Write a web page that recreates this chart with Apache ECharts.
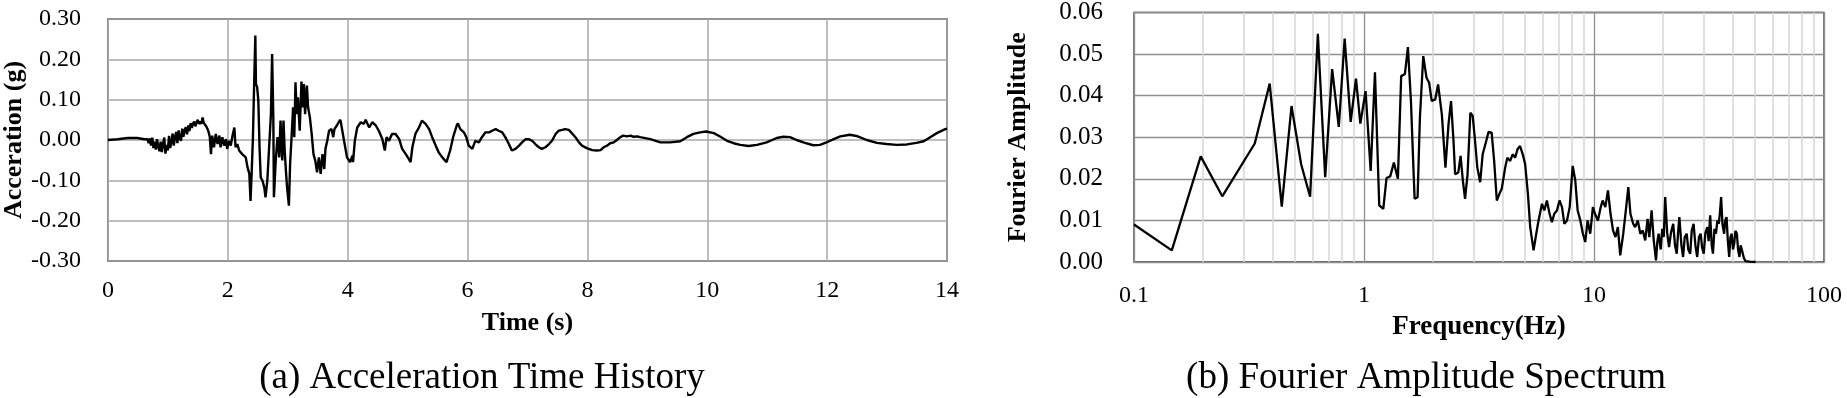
<!DOCTYPE html>
<html>
<head>
<meta charset="utf-8">
<script src="https://cdn.jsdelivr.net/npm/echarts@6/dist/echarts.min.js"></script>
<style>
html,body{margin:0;padding:0;background:#fff;}
#c{width:1847px;height:398px;}
</style>
</head>
<body>
<div id="c"></div>
<script>
// ---- (a) Acceleration time history ----
const timeVals = [0.00,0.16,0.33,0.49,0.61,0.66,0.68,0.70,0.72,0.74,0.76,0.78,0.80,0.82,0.84,0.86,0.88,0.90,0.92,0.94,0.96,0.98,1.00,1.02,1.04,1.06,1.08,1.10,1.12,1.14,1.16,1.18,1.20,1.22,1.24,1.26,1.28,1.30,1.32,1.34,1.36,1.38,1.40,1.42,1.44,1.46,1.48,1.50,1.52,1.54,1.56,1.58,1.60,1.62,1.64,1.66,1.68,1.70,1.72,1.74,1.77,1.80,1.83,1.86,1.88,1.91,1.94,1.97,1.99,2.02,2.05,2.08,2.11,2.13,2.16,2.19,2.22,2.24,2.27,2.30,2.33,2.36,2.38,2.40,2.42,2.44,2.46,2.47,2.49,2.51,2.53,2.55,2.58,2.61,2.63,2.66,2.69,2.72,2.74,2.76,2.77,2.80,2.83,2.86,2.88,2.91,2.93,2.95,2.97,2.99,3.02,3.04,3.07,3.09,3.11,3.13,3.15,3.17,3.20,3.23,3.25,3.27,3.29,3.32,3.34,3.37,3.40,3.43,3.46,3.49,3.52,3.55,3.58,3.61,3.63,3.66,3.69,3.73,3.76,3.78,3.82,3.85,3.88,3.94,3.99,4.04,4.08,4.09,4.12,4.16,4.22,4.27,4.30,4.36,4.41,4.47,4.52,4.58,4.62,4.65,4.69,4.74,4.80,4.86,4.91,4.97,5.02,5.05,5.08,5.13,5.19,5.24,5.30,5.36,5.41,5.47,5.52,5.58,5.65,5.71,5.76,5.82,5.84,5.88,5.94,5.98,6.02,6.08,6.13,6.19,6.24,6.30,6.36,6.41,6.47,6.52,6.58,6.63,6.69,6.74,6.80,6.86,6.91,6.97,7.02,7.08,7.13,7.19,7.24,7.30,7.36,7.41,7.47,7.52,7.58,7.63,7.69,7.74,7.80,7.86,7.91,7.99,8.08,8.16,8.22,8.27,8.33,8.38,8.44,8.49,8.55,8.60,8.66,8.72,8.77,8.83,8.88,9.05,9.22,9.38,9.55,9.66,9.77,9.88,9.98,10.11,10.22,10.33,10.44,10.55,10.69,10.83,10.99,11.16,11.27,11.38,11.49,11.63,11.77,11.88,11.99,12.11,12.22,12.38,12.49,12.66,12.83,12.99,13.16,13.33,13.49,13.61,13.72,13.83,13.97,14.00];
const accelVals = [0.000,0.002,0.005,0.005,0.002,0.002,-0.008,0.004,-0.014,0.006,-0.020,-0.004,-0.024,0.002,-0.016,-0.028,-0.004,-0.030,-0.010,0.006,-0.034,-0.012,-0.026,0.010,-0.020,-0.004,0.016,-0.014,0.008,0.020,-0.008,0.024,0.004,-0.002,0.028,0.008,0.024,0.032,0.014,0.036,0.022,0.042,0.030,0.040,0.046,0.034,0.044,0.050,0.040,0.046,0.040,0.056,0.042,0.046,0.034,0.028,0.020,0.008,-0.035,0.011,-0.018,0.015,-0.010,0.011,-0.018,0.007,-0.014,0.002,-0.022,-0.002,-0.014,0.011,0.031,-0.018,-0.010,-0.026,-0.022,-0.035,-0.031,-0.043,-0.068,-0.084,-0.151,-0.076,0.007,0.139,0.259,0.139,0.131,0.098,-0.018,-0.093,-0.101,-0.118,-0.142,-0.101,-0.018,0.064,0.213,0.056,-0.142,-0.051,0.007,-0.043,0.048,-0.051,0.048,-0.026,-0.076,-0.118,-0.163,-0.060,0.023,0.081,0.007,0.143,0.064,0.106,0.023,0.145,0.081,0.139,0.064,0.135,0.081,0.056,0.015,-0.035,-0.051,-0.080,-0.043,-0.084,-0.035,-0.072,-0.022,-0.002,0.023,0.027,0.007,0.027,0.036,0.044,0.050,-0.002,-0.043,-0.055,-0.039,-0.055,-0.002,0.031,0.044,0.040,0.050,0.031,0.044,0.036,0.023,0.002,-0.026,0.007,-0.002,0.015,0.015,0.002,-0.022,-0.035,-0.047,-0.055,-0.018,0.015,0.031,0.048,0.040,0.027,0.007,-0.014,-0.031,-0.043,-0.055,-0.026,0.007,0.036,0.041,0.027,0.019,0.007,-0.014,-0.022,-0.002,-0.006,0.007,0.019,0.019,0.023,0.027,0.023,0.019,0.007,-0.010,-0.026,-0.022,-0.014,-0.006,0.002,0.002,-0.002,-0.010,-0.018,-0.022,-0.018,-0.010,-0.002,0.015,0.023,0.025,0.027,0.025,0.017,0.007,-0.006,-0.014,-0.020,-0.025,-0.026,-0.025,-0.018,-0.014,-0.008,-0.006,0.000,0.007,0.011,0.009,0.011,0.008,0.009,0.007,0.002,-0.006,-0.006,-0.003,0.007,0.015,0.019,0.021,0.017,0.008,-0.002,-0.008,-0.012,-0.015,-0.012,-0.006,0.005,0.008,0.007,0.000,-0.007,-0.013,-0.012,-0.006,0.002,0.009,0.013,0.010,0.000,-0.007,-0.010,-0.012,-0.011,-0.007,-0.003,0.007,0.017,0.027,0.028];
const timeTicks = [0, 14, 2];          // min, max, step
const accelTicks = [-0.30, 0.30, 0.10];

// ---- (b) Fourier amplitude spectrum ----
const freqVals = [0.100,0.146,0.195,0.242,0.335,0.389,0.439,0.484,0.533,0.583,0.630,0.678,0.727,0.777,0.824,0.875,0.923,0.964,1.016,1.069,1.116,1.165,1.213,1.253,1.300,1.349,1.404,1.451,1.506,1.552,1.60,1.64,1.66,1.71,1.75,1.81,1.87,1.92,1.97,2.04,2.10,2.18,2.26,2.33,2.39,2.45,2.49,2.57,2.63,2.69,2.75,2.82,2.90,2.97,3.04,3.11,3.20,3.28,3.40,3.48,3.59,3.68,3.78,3.88,3.97,4.11,4.20,4.32,4.43,4.54,4.65,4.77,4.90,5.02,5.16,5.28,5.46,5.61,5.74,5.94,6.08,6.24,6.41,6.56,6.72,6.90,7.08,7.26,7.43,7.63,7.84,8.08,8.29,8.49,8.72,8.95,9.16,9.38,9.63,9.89,10.1,10.4,10.7,10.9,11.2,11.5,11.8,12.1,12.4,12.7,13.0,13.4,13.7,14.1,14.4,14.8,15.1,15.5,15.9,16.3,16.7,17.1,17.4,17.8,18.2,18.6,18.85,19.1,19.5,19.8,20.1,20.4,20.8,21.2,21.6,22.1,22.5,22.9,23.2,23.5,24.0,24.4,24.8,25.3,25.7,26.2,26.6,27.1,27.6,28.1,28.6,29.1,29.5,30.0,30.5,31.1,31.5,32.0,32.5,32.9,33.4,33.9,34.4,34.9,35.3,35.7,36.2,36.8,37.2,37.7,38.2,38.7,39.2,39.7,40.2,40.7,41.2,41.8,42.3,42.9,43.4,44.0,44.8,45.6,47.5,50.5];
const ampVals = [0.0090,0.0028,0.0254,0.0158,0.0285,0.0429,0.0133,0.0375,0.0235,0.0157,0.0549,0.0204,0.0464,0.0325,0.0537,0.0337,0.0441,0.0333,0.0411,0.0219,0.0456,0.0136,0.0128,0.0202,0.0206,0.0239,0.0200,0.0447,0.0452,0.0517,0.0387,0.0227,0.0152,0.0156,0.0347,0.0495,0.0443,0.0431,0.0387,0.0391,0.0427,0.0355,0.0227,0.0331,0.0387,0.0291,0.0211,0.0215,0.0255,0.0196,0.0152,0.0211,0.0359,0.0351,0.0291,0.0227,0.0192,0.0259,0.0291,0.0313,0.0311,0.0243,0.0148,0.0164,0.0176,0.0227,0.0251,0.0243,0.0259,0.0251,0.0271,0.0279,0.0259,0.0235,0.0164,0.0084,0.0028,0.0068,0.0100,0.0140,0.0124,0.0148,0.0116,0.0096,0.0116,0.0124,0.0148,0.0132,0.0092,0.0100,0.0132,0.0231,0.0196,0.0124,0.0100,0.0068,0.0048,0.0100,0.0068,0.0132,0.0116,0.0100,0.0132,0.0148,0.0132,0.0172,0.0116,0.0076,0.0060,0.0084,0.0016,0.0068,0.0116,0.0180,0.0116,0.0092,0.0084,0.0100,0.0068,0.0076,0.0052,0.0104,0.0060,0.0124,0.0050,0.0004,0.0048,0.0068,0.0030,0.0080,0.0060,0.0156,0.0070,0.0036,0.0070,0.0092,0.0040,0.0020,0.0070,0.0108,0.0040,0.0012,0.0060,0.0068,0.0030,0.0020,0.0075,0.0092,0.0040,0.0012,0.0060,0.0068,0.0035,0.0020,0.0070,0.0084,0.0050,0.0112,0.0040,0.0020,0.0080,0.0068,0.0100,0.0092,0.0120,0.0156,0.0090,0.0068,0.0100,0.0108,0.0050,0.0012,0.0060,0.0068,0.0030,0.0044,0.0075,0.0068,0.0030,0.0012,0.0040,0.0028,0.0010,0.0002,0.0001,0.0000];
const freqTicks = [0.1, 1, 10, 100];
const freqMinorGrid = [0.2,0.3,0.4,0.5,0.6,0.7,0.8,0.9,2,3,4,5,6,7,8,9,20,30,40,50,60,70,80,90];
const ampTicks = [0, 0.06, 0.01];

const FONT = '"Liberation Serif","Times New Roman",serif';

const accelData = timeVals.map((t, i) => [t, accelVals[i]]);
const specData = freqVals.map((f, i) => [f, ampVals[i]]);

const chart = echarts.init(document.getElementById('c'), null, {renderer: 'canvas'});

const tickLabel = (size) => ({fontFamily: FONT, fontSize: size, color: '#000'});
const axisName = {fontFamily: FONT, fontWeight: 'bold', fontSize: 26, color: '#000'};

chart.setOption({
  animation: false,
  backgroundColor: '#fff',
  grid: [
    {left: 107, top: 19, width: 840, height: 242, show: true, borderColor: '#222', borderWidth: 1.3, backgroundColor: 'transparent'},
    {left: 1134, top: 11, width: 690, height: 251, show: true, borderColor: '#333', borderWidth: 1.3, backgroundColor: 'transparent'}
  ],
  xAxis: [
    {
      gridIndex: 0, type: 'value', min: timeTicks[0], max: timeTicks[1], interval: timeTicks[2],
      axisLine: {show: false}, axisTick: {show: false},
      splitLine: {show: true, lineStyle: {color: '#a9a9a9', width: 1.5}},
      axisLabel: Object.assign({margin: 18}, tickLabel(24)),
      name: 'Time (s)', nameLocation: 'middle', nameGap: 49, nameTextStyle: axisName
    },
    {
      gridIndex: 1, type: 'log', logBase: 10, min: freqTicks[0], max: freqTicks[freqTicks.length - 1],
      axisLine: {show: false}, axisTick: {show: false},
      splitLine: {show: true, lineStyle: {color: '#8f8f8f', width: 1.3}},
      axisLabel: Object.assign({margin: 22, formatter: v => String(+v.toPrecision(3))}, tickLabel(24)),
      name: 'Frequency(Hz)', nameLocation: 'middle', nameGap: 52, nameTextStyle: Object.assign({}, axisName, {fontSize: 27})
    }
  ],
  yAxis: [
    {
      gridIndex: 0, type: 'value', min: accelTicks[0], max: accelTicks[1], interval: accelTicks[2],
      axisLine: {show: false}, axisTick: {show: false},
      splitLine: {show: true, lineStyle: {color: '#a9a9a9', width: 1.5}},
      axisLabel: Object.assign({margin: 27, formatter: v => v.toFixed(2)}, tickLabel(24)),
      name: 'Acceration (g)', nameLocation: 'middle', nameGap: 80, nameTextStyle: axisName
    },
    {
      gridIndex: 1, type: 'value', min: ampTicks[0], max: ampTicks[1], interval: ampTicks[2],
      axisLine: {show: false}, axisTick: {show: false},
      splitLine: {show: true, lineStyle: {color: '#8f8f8f', width: 1.3}},
      axisLabel: Object.assign({margin: 31, formatter: v => v.toFixed(2)}, tickLabel(25)),
      name: 'Fourier Amplitude', nameLocation: 'middle', nameGap: 103, nameTextStyle: Object.assign({}, axisName, {fontSize: 26})
    }
  ],
  series: [
    {
      type: 'line', xAxisIndex: 0, yAxisIndex: 0, data: accelData,
      showSymbol: false, symbol: 'none', z: 3,
      lineStyle: {color: '#000', width: 2.4}
    },
    {
      type: 'line', xAxisIndex: 1, yAxisIndex: 1, data: specData,
      showSymbol: false, symbol: 'none', z: 1, silent: true,
      lineStyle: {opacity: 0},
      markLine: {
        silent: true, symbol: ['none', 'none'], label: {show: false}, z: 1,
        lineStyle: {color: '#d6d6d6', width: 1.5, type: 'solid'},
        data: freqMinorGrid.map(f => ({xAxis: f}))
      }
    },
    {
      type: 'line', xAxisIndex: 1, yAxisIndex: 1, data: specData,
      showSymbol: false, symbol: 'none', z: 3,
      lineStyle: {color: '#000', width: 2.3}
    }
  ],
  graphic: [
    {type: 'text', x: 482, y: 378, style: {text: '(a) Acceleration Time History', font: '37px ' + FONT, fill: '#000', align: 'center', verticalAlign: 'middle'}},
    {type: 'text', x: 1426, y: 378, style: {text: '(b) Fourier Amplitude Spectrum', font: '37px ' + FONT, fill: '#000', align: 'center', verticalAlign: 'middle'}}
  ]
});
</script>
</body>
</html>
